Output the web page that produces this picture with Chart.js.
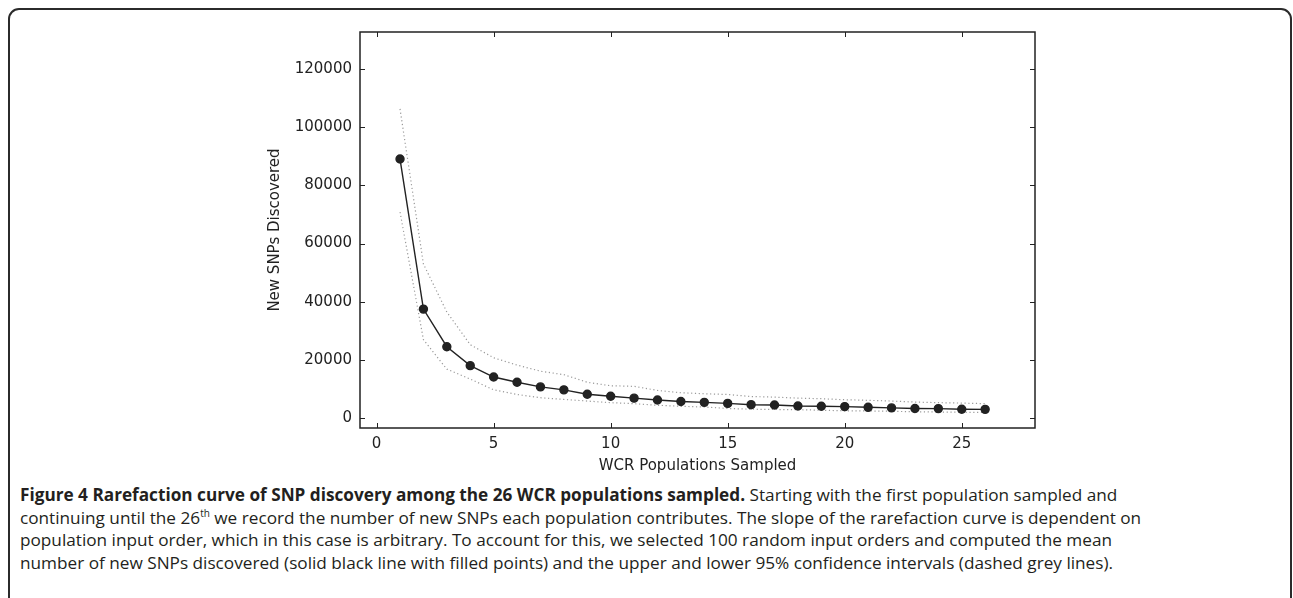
<!DOCTYPE html>
<html>
<head>
<meta charset="utf-8">
<script src="https://cdn.jsdelivr.net/npm/chart.js@4"></script>
<style>
    html, body { margin: 0; padding: 0; background: #fff; }
    body { width: 1293px; height: 598px; position: relative; overflow: hidden; }
    #frame {
        position: absolute; left: 8px; top: 8px; width: 1284px; height: 700px;
        border: 2px solid #2b2b2b; border-radius: 11px; box-sizing: border-box;
    }
    #chart { position: absolute; left: 262px; top: 15px; }
    #caption {
        position: absolute; left: 20px; top: 484px;
        font-family: "Open Sans", sans-serif; font-size: 17.2px; line-height: 22.5px;
        color: #231f20; white-space: nowrap;
    }
    #caption b { font-weight: 700; }
    #caption sup { font-size: 10px; line-height: 0; vertical-align: 7px; }
</style>
</head>
<body>
<div id="frame"></div>
<canvas id="chart" width="800" height="464"></canvas>
<div id="caption">
    <b>Figure 4 Rarefaction curve of SNP discovery among the 26 WCR populations sampled.</b> Starting with the first population sampled and<br>
    continuing until the 26<sup>th</sup> we record the number of new SNPs each population contributes. The slope of the rarefaction curve is dependent on<br>
    population input order, which in this case is arbitrary. To account for this, we selected 100 random input orders and computed the mean<br>
    number of new SNPs discovered (solid black line with filled points) and the upper and lower 95% confidence intervals (dashed grey lines).
</div>
<script>
const populations = [1, 2, 3, 4, 5, 6, 7, 8, 9, 10, 11, 12, 13, 14, 15, 16, 17, 18, 19, 20, 21, 22, 23, 24, 25, 26];
const meanSnps = [89000, 37500, 24600, 18100, 14200, 12400, 10800, 9800, 8300, 7600, 6950, 6300, 5800,
    5500, 5150, 4700, 4600, 4250, 4150, 4050, 3800, 3600, 3400, 3350, 3150, 3100];
const upperCI = [106200, 53000, 36500, 25300, 20800, 18300, 16200, 15000, 12400, 11200, 11000, 9600, 8800,
    8450, 8200, 7500, 7300, 6950, 6750, 6400, 6200, 5950, 5600, 5400, 5250, 5050];
const lowerCI = [70800, 27000, 16900, 13500, 9800, 8200, 7100, 6500, 5950, 5400, 5050, 4500, 4150,
    3900, 3400, 3150, 3050, 3000, 2800, 2600, 2550, 2450, 2250, 2200, 2100, 2000];
const xTicks = [0, 5, 10, 15, 20, 25];
const yTicks = [0, 20000, 40000, 60000, 80000, 100000, 120000];

const ink = '#222';
const axisFont = { family: 'DejaVu Sans', size: 15 };

const toPoints = vals => populations.map((p, i) => ({ x: p, y: vals[i] }));

// matplotlib style box with inward ticks on all four sides
const frameTicks = {
    id: 'frameTicks',
    afterDraw(chart) {
        const { ctx, chartArea: a, scales } = chart;
        const len = 5;
        ctx.save();
        ctx.strokeStyle = ink;
        ctx.lineWidth = 1;
        xTicks.forEach(v => {
            const px = Math.round(scales.x.getPixelForValue(v)) + 0.5;
            ctx.beginPath();
            ctx.moveTo(px, a.bottom); ctx.lineTo(px, a.bottom - len);
            ctx.moveTo(px, a.top); ctx.lineTo(px, a.top + len);
            ctx.stroke();
        });
        yTicks.forEach(v => {
            const py = Math.round(scales.y.getPixelForValue(v)) + 0.5;
            ctx.beginPath();
            ctx.moveTo(a.left, py); ctx.lineTo(a.left + len, py);
            ctx.moveTo(a.right, py); ctx.lineTo(a.right - len, py);
            ctx.stroke();
        });
        ctx.lineWidth = 1.5;
        ctx.strokeRect(a.left, a.top, a.right - a.left, a.bottom - a.top);
        ctx.restore();
    }
};

new Chart(document.getElementById('chart'), {
    type: 'line',
    data: {
        datasets: [
            {
                label: 'Mean',
                data: toPoints(meanSnps),
                borderColor: ink,
                backgroundColor: ink,
                borderWidth: 1.4,
                pointRadius: 4,
                pointBackgroundColor: ink,
                pointBorderColor: ink,
                order: 0
            },
            {
                label: 'Upper 95% CI',
                data: toPoints(upperCI),
                borderColor: '#9a9a9a',
                borderWidth: 1.2,
                borderDash: [1.2, 2.6],
                pointRadius: 0,
                order: 1
            },
            {
                label: 'Lower 95% CI',
                data: toPoints(lowerCI),
                borderColor: '#9a9a9a',
                borderWidth: 1.2,
                borderDash: [1.2, 2.6],
                pointRadius: 0,
                order: 2
            }
        ]
    },
    options: {
        responsive: false,
        animation: false,
        layout: { padding: { top: 10, right: 27, left: 0, bottom: 0 } },
        plugins: {
            legend: { display: false },
            tooltip: { enabled: false }
        },
        scales: {
            x: {
                type: 'linear',
                min: -0.71,
                max: 28.13,
                afterFit: s => { s.height = 51; },
                afterBuildTicks: s => { s.ticks = xTicks.map(v => ({ value: v })); },
                grid: { display: false, drawTicks: false },
                border: { display: false },
                ticks: { color: ink, font: axisFont, padding: 7, callback: v => String(v) },
                title: { display: true, text: 'WCR Populations Sampled', color: ink, font: axisFont }
            },
            y: {
                type: 'linear',
                min: -3300,
                max: 132600,
                afterFit: s => { s.width = 98; },
                afterBuildTicks: s => { s.ticks = yTicks.map(v => ({ value: v })); },
                grid: { display: false, drawTicks: false },
                border: { display: false },
                ticks: { color: ink, font: axisFont, padding: 8, callback: v => String(v) },
                title: { display: true, text: 'New SNPs Discovered', color: ink, font: axisFont }
            }
        }
    },
    plugins: [frameTicks]
});
</script>
</body>
</html>
